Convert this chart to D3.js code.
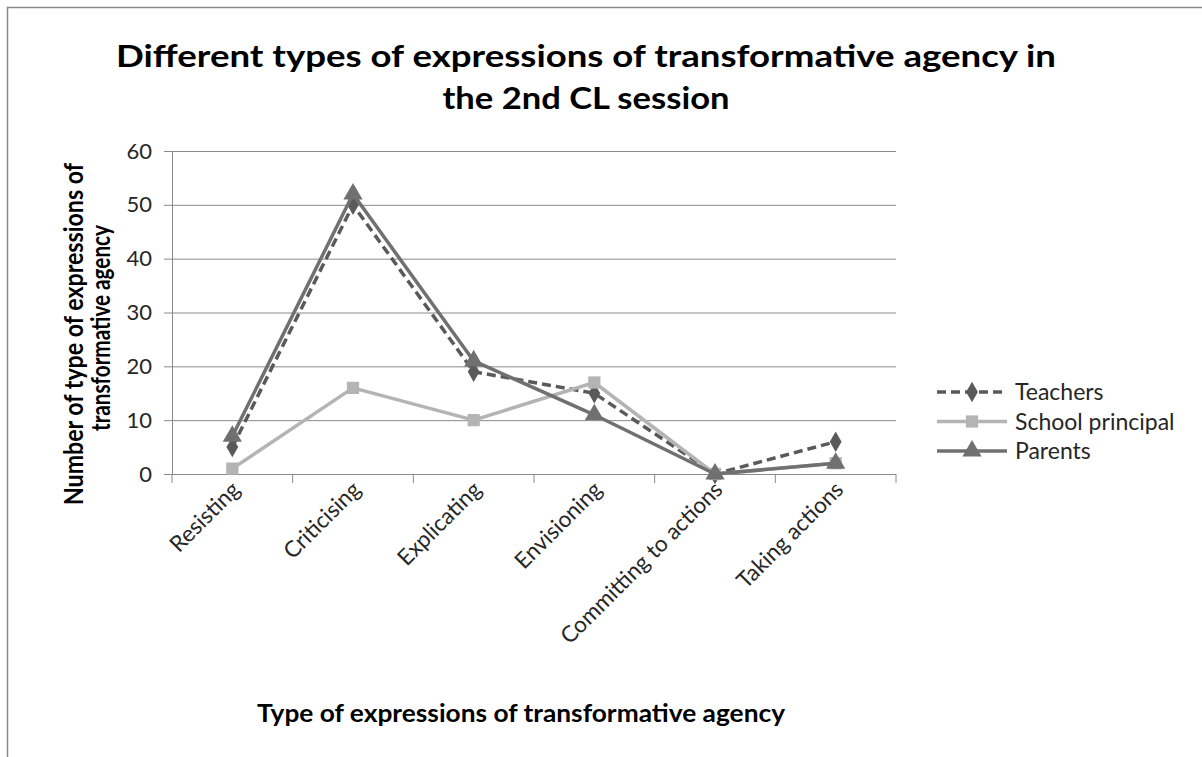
<!DOCTYPE html>
<html>
<head>
<meta charset="utf-8">
<script src="https://cdn.jsdelivr.net/npm/d3@7"></script>
<style>
  body { margin: 0; background: #fff; overflow: hidden; }
  svg { display: block; font-family: Lato, "Open Sans", sans-serif; }
</style>
</head>
<body>
<div id="chart"></div>
<script>
// Data
const categories = ["Resisting", "Criticising", "Explicating", "Envisioning", "Committing to actions", "Taking actions"];
const teachers = [5, 50, 19, 15, 0, 6];
const schoolPrincipal = [1, 16, 10, 17, 0, 2];
const parents = [7, 52, 21, 11, 0, 2];
const yTicks = [0, 10, 20, 30, 40, 50, 60];

const series = [
    { name: "Teachers", values: teachers, color: "#5a5a5a", dash: "9,5", marker: "diamond" },
    { name: "School principal", values: schoolPrincipal, color: "#b4b4b4", dash: null, marker: "square" },
    { name: "Parents", values: parents, color: "#707070", dash: null, marker: "triangle" }
];

const width = 1202, height = 757;
const plot = { left: 172, right: 896, top: 151, bottom: 474 };

const svg = d3.select("#chart").append("svg")
    .attr("width", width)
    .attr("height", height);

// Chart frame (only top and left edges fall inside the picture)
svg.append("path")
    .attr("d", `M7.5,${height} V7.5 H${width}`)
    .attr("fill", "none")
    .attr("stroke", "#8a8a8a")
    .attr("stroke-width", 1.5);

// Scales
const x = d3.scaleBand()
    .domain(categories)
    .range([plot.left, plot.right]);

const y = d3.scaleLinear()
    .domain([0, 60])
    .range([plot.bottom, plot.top]);

// y axis
const yAxis = d3.axisLeft(y)
    .tickValues(yTicks)
    .tickSize(8)
    .tickPadding(12);

const gy = svg.append("g")
    .attr("transform", `translate(${plot.left},0)`)
    .call(yAxis);
gy.select(".domain").attr("stroke", "#8a8a8a");
gy.selectAll(".tick line").attr("stroke", "#8a8a8a");
gy.selectAll(".tick text")
    .attr("font-family", "Lato, sans-serif")
    .attr("font-size", 22)
    .attr("fill", "#262626");

// gridlines
svg.append("g")
    .selectAll("line")
    .data(yTicks.filter(d => d > 0))
    .join("line")
    .attr("x1", plot.left).attr("x2", plot.right)
    .attr("y1", d => y(d) + 0.5).attr("y2", d => y(d) + 0.5)
    .attr("stroke", "#8a8a8a")
    .attr("stroke-width", 1);

// x axis with ticks at band edges
const gx = svg.append("g")
    .attr("transform", `translate(0,${plot.bottom})`);
gx.append("line")
    .attr("x1", plot.left).attr("x2", plot.right)
    .attr("y1", 0.5).attr("y2", 0.5)
    .attr("stroke", "#8a8a8a");
gx.selectAll(".edge")
    .data(categories.map(c => x(c)).concat([plot.right]))
    .join("line")
    .attr("class", "edge")
    .attr("x1", d => d).attr("x2", d => d)
    .attr("y1", 0).attr("y2", 9)
    .attr("stroke", "#8a8a8a");

gx.selectAll(".lbl")
    .data(categories)
    .join("text")
    .attr("class", "lbl")
    .attr("transform", d => `translate(${x(d) + x.bandwidth() / 2 + 9},${17}) rotate(-45)`)
    .attr("text-anchor", "end")
    .attr("font-size", 22.5)
    .attr("fill", "#262626")
    .text(d => d);

// Lines and markers
const cx = d => x(d) + x.bandwidth() / 2;
const line = d3.line()
    .x((v, i) => cx(categories[i]))
    .y(v => y(v));

const symbolFor = {
    diamond: d3.symbol().type(d3.symbolDiamond).size(120),
    square: d3.symbol().type(d3.symbolSquare).size(150),
    triangle: d3.symbol().type(d3.symbolTriangle).size(160)
};

series.forEach(s => {
    const g = svg.append("g");
    g.append("path")
        .datum(s.values)
        .attr("fill", "none")
        .attr("stroke", s.color)
        .attr("stroke-width", 3.5)
        .attr("stroke-dasharray", s.dash)
        .attr("stroke-linejoin", "round")
        .attr("d", line);
    g.selectAll("path.mk")
        .data(s.values)
        .join("path")
        .attr("class", "mk")
        .attr("transform", (v, i) => `translate(${cx(categories[i])},${y(v)})`)
        .attr("d", symbolFor[s.marker]())
        .attr("fill", s.color);
});

// Legend
const legend = svg.append("g");
series.forEach((s, i) => {
    const ly = 392 + i * 29.5;
    legend.append("line")
        .attr("x1", 937).attr("x2", 1007)
        .attr("y1", ly).attr("y2", ly)
        .attr("stroke", s.color)
        .attr("stroke-width", 3.5)
        .attr("stroke-dasharray", s.dash);
    legend.append("path")
        .attr("transform", `translate(972,${ly})`)
        .attr("d", symbolFor[s.marker]())
        .attr("fill", s.color);
    legend.append("text")
        .attr("x", 1015).attr("y", ly + 8)
        .attr("font-size", 23)
        .attr("fill", "#262626")
        .text(s.name);
});

// Titles
svg.append("text")
    .attr("x", 586).attr("y", 67)
    .attr("text-anchor", "middle")
    .attr("font-size", 31).attr("font-weight", "bold")
    .attr("textLength", 940).attr("lengthAdjust", "spacingAndGlyphs")
    .text("Different types of expressions of transformative agency in");
svg.append("text")
    .attr("x", 586).attr("y", 109)
    .attr("text-anchor", "middle")
    .attr("font-size", 31).attr("font-weight", "bold")
    .attr("textLength", 287).attr("lengthAdjust", "spacingAndGlyphs")
    .text("the 2nd CL session");

svg.append("text")
    .attr("transform", "translate(83,334) rotate(-90)")
    .attr("text-anchor", "middle")
    .attr("font-size", 26).attr("font-weight", "bold")
    .attr("textLength", 342).attr("lengthAdjust", "spacingAndGlyphs")
    .text("Number of type of expressions of");
svg.append("text")
    .attr("transform", "translate(110,328) rotate(-90)")
    .attr("text-anchor", "middle")
    .attr("font-size", 26).attr("font-weight", "bold")
    .attr("textLength", 206).attr("lengthAdjust", "spacingAndGlyphs")
    .text("transformative agency");

svg.append("text")
    .attr("x", 521).attr("y", 722)
    .attr("text-anchor", "middle")
    .attr("font-size", 25).attr("font-weight", "bold")
    .attr("textLength", 528).attr("lengthAdjust", "spacingAndGlyphs")
    .text("Type of expressions of transformative agency");
</script>
</body>
</html>
